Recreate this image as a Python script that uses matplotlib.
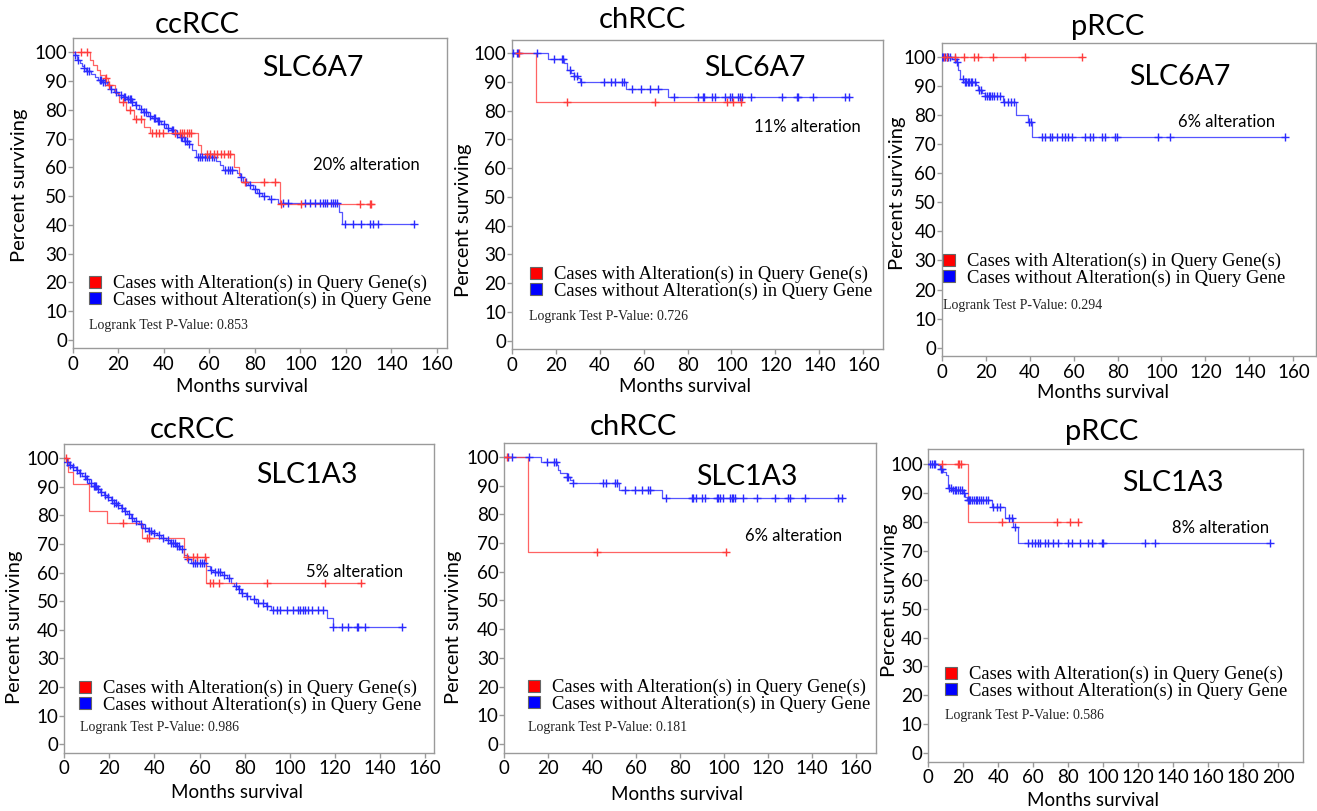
import numpy as np
import matplotlib
matplotlib.use("Agg")
import matplotlib.pyplot as plt
from matplotlib.lines import Line2D

W, H = 1317, 811

# ---------------- data ----------------
# Panel 1: ccRCC SLC6A7
p1_alt_t = [0, 7.5, 9, 10.5, 12, 14, 15.5, 18.5, 20.5, 23.5, 27, 31.5, 34, 55, 56.5, 71, 73, 74, 91]
p1_alt_s = [100, 97.5, 95.5, 93.8, 92, 91, 88.6, 86, 82.8, 80, 77, 74, 71.8, 67.8, 64.8, 60, 57.4, 55, 47.2]
p1_alt_end = 131
p1_alt_cens = [3.5, 6.5, 14.5, 16, 22, 25, 28, 30, 35, 36.5, 38, 39.5, 45, 47, 48, 49, 50, 51, 52,
               59, 60.5, 62, 63.5, 65, 66.5, 68, 69, 75.5, 84, 89, 91.6, 100.4, 126, 130.4, 131]
p1_un_t = [0, 1, 2, 3, 4, 5, 6, 8, 10, 11, 13, 15, 16.5, 18, 20, 22, 24, 26, 27.5, 29, 31, 33, 35, 37,
           39, 41, 43, 45, 47, 49, 51, 52.5, 54, 63, 64.5, 66, 72, 73.5, 75, 77, 79, 81, 83, 86, 90, 117, 118.5]
p1_un_s = [100, 99, 97.5, 96.3, 95.4, 94.5, 93.4, 92.6, 91.5, 90.3, 89.6, 88.5, 87.4, 86.3, 85.2, 84.5,
           83.8, 82.9, 81.6, 80.3, 79.1, 78.0, 77.2, 76.3, 75.0, 73.8, 72.9, 71.6, 70.4, 69.2, 68.3, 66.2,
           63.5, 62.4, 60.8, 59.2, 58.0, 56.6, 55.0, 53.8, 52.5, 51.2, 50.0, 49.1, 47.6, 44.6, 40.4]
p1_un_end = 150
p1_un_cens = [1, 2.5, 5, 6.5, 7, 12, 12.5, 13.5, 14, 17, 19, 21, 22.5, 23, 24.5, 25, 25.5, 26, 28, 30,
              31.5, 32, 34, 35.5, 36, 37.5, 38, 40, 42, 43.5, 44, 46, 47.5, 48, 49.5, 50, 51, 55, 56, 57,
              58, 59, 60, 61, 62, 67, 68, 69, 70, 74, 76, 78, 80, 82, 84, 87, 92.3, 94.5, 101.9, 104.1,
              106.3, 108.5, 110, 110.7, 111.5, 113.6, 114.4, 115.1, 115.9, 119.4, 123.1, 126.8, 130.4,
              131.9, 134.1, 150]

# Panel 2: chRCC SLC6A7
p2_alt_t = [0, 10.9]
p2_alt_s = [100, 83.2]
p2_alt_end = 105
p2_alt_cens = [3.5, 25, 65, 98, 100.5, 104.5]
p2_un_t = [0, 16.5, 23.8, 25, 27, 28.5, 30, 31, 52, 71]
p2_un_s = [100, 98, 96.5, 94.2, 93, 92, 91.3, 90.1, 87.6, 84.7]
p2_un_end = 154
p2_un_cens = [0.7, 2.3, 3, 11.4, 19.4, 22.7, 23.5, 26.5, 28.5, 29.5, 31.5, 42, 45, 47, 50, 51, 54.6,
              59, 63, 66.4, 74, 84.9, 87.2, 87.7, 91, 92.5, 97.1, 99.3, 100.1, 103.1, 103.9, 104.9,
              108.9, 122.8, 129.7, 130.4, 137.3, 151.7, 153.5]

# Panel 3: pRCC SLC6A7
p3_alt_t = [0]
p3_alt_s = [100]
p3_alt_end = 64
p3_alt_cens = [1, 2.5, 6, 10, 14.8, 16.5, 23.5, 38, 64]
p3_un_t = [0, 4.8, 6.5, 7.5, 8.5, 10.5, 15.5, 16.7, 18.2, 19.5, 28, 34, 39.4, 40.9]
p3_un_s = [100, 99.3, 98.2, 95.5, 92.5, 91.6, 90.6, 88.7, 87.6, 86.6, 84.7, 80.1, 77.8, 72.5]
p3_un_end = 156
p3_un_cens = [0.3, 0.8, 1.5, 2.3, 3, 4, 6, 7, 9.5, 10.5, 11, 12, 12.5, 13.5, 14, 15, 17, 18, 19.8,
              20.5, 21.5, 22, 23, 24, 25, 26.5, 28.5, 30, 31.5, 33, 39.9, 40.6, 45.5, 47, 49.3, 50,
              52.3, 54.6, 56.1, 57.6, 59.1, 65.2, 67.5, 69, 72.8, 74.3, 78.8, 79.6, 98.6, 103.9, 156]

# Panel 4: ccRCC SLC1A3
p4_alt_t = [0, 1.8, 3.7, 11.1, 18.8, 34.3, 53.1, 62.9]
p4_alt_s = [100, 95.3, 90.9, 81.7, 77.2, 72, 65.6, 56.2]
p4_alt_end = 131.9
p4_alt_cens = [0.9, 26.2, 36.5, 37.7, 54.3, 57, 58.7, 62.4, 64.6, 65.8, 68.8, 89.8, 115.6, 131.5]
p4_un_t = [0, 1, 2, 3.5, 5, 6.5, 8, 9.5, 11, 13, 14.5, 16, 17.5, 19, 20.5, 22, 23.5, 25, 26.5, 28,
           29.5, 31, 33, 35, 37, 39, 41, 43, 45, 47, 49.5, 51.5, 53, 54.5, 56, 63, 64.5, 66, 70, 72,
           74, 75.5, 77, 78.5, 80.5, 82.5, 85, 89.5, 91.5, 116.5, 119]
p4_un_s = [100, 98.8, 97.8, 96.9, 95.8, 94.8, 93.8, 92.7, 91.4, 90.3, 89.3, 88.2, 87.2, 86.3, 85.4,
           84.5, 83.6, 82.6, 81.6, 80.4, 79.2, 78.2, 77.0, 75.6, 74.7, 73.8, 73.0, 72.2, 71.3, 70.3,
           69.3, 68.3, 66.3, 64.6, 63.3, 62.2, 61.0, 60.2, 59.2, 58.0, 56.5, 55.2, 54.2, 53.0, 51.8,
           50.8, 49.5, 48.3, 47.1, 44.0, 41.0]
p4_un_end = 149.7
p4_un_cens = [1, 2.5, 4, 5.5, 7, 9, 10, 12, 13, 13.5, 14, 15, 16.5, 18, 19.5, 21, 22, 23, 24, 25.5,
              27, 28.5, 30, 32, 34, 36, 37.5, 38.5, 40, 42, 44, 46, 47.5, 48, 49, 50, 51, 52, 55, 57,
              58, 59, 60, 61, 62, 65, 67, 68, 69, 71, 73, 76, 77.5, 79, 81, 84, 86, 88, 90, 92.7, 94.2,
              95.7, 98.6, 101.6, 103.8, 104.5, 106, 106.8, 108.2, 109.7, 112.7, 114.9, 119.4, 123.1,
              126, 129.7, 130.5, 133.4, 149.7]

# Panel 5: chRCC SLC1A3
p5_alt_t = [0, 10.6]
p5_alt_s = [100, 66.9]
p5_alt_end = 101.2
p5_alt_cens = [1.1, 42, 101]
p5_un_t = [0, 16.5, 23.8, 24.6, 25.3, 28.4, 29.9, 31.1, 52.2, 71.6]
p5_un_s = [100, 98.3, 97, 95.4, 94.2, 93, 91.8, 90.7, 88.4, 85.5]
p5_un_end = 154.3
p5_un_cens = [1.8, 3.3, 11.4, 19.3, 22.8, 23.5, 28.4, 29.2, 31.1, 45, 46.5, 50.3, 51.3, 54.9, 59.5,
              62.5, 65.5, 66.3, 73.6, 85.2, 86, 87.2, 89.8, 91.3, 96.6, 97.4, 98.1, 99.7, 102.7, 103.4,
              104.2, 105, 108.8, 114.8, 123.2, 129.2, 130, 136.8, 152, 153.5]

# Panel 6: pRCC SLC1A3
p6_alt_t = [0, 22.9]
p6_alt_s = [100, 80.1]
p6_alt_end = 86.1
p6_alt_cens = [7.6, 16.8, 17.7, 18.7, 41.9, 73.4, 80.9, 85.4]
p6_un_t = [0, 5.4, 6.7, 8.6, 9.9, 11.2, 13.3, 20, 21, 22, 36.2, 43.8, 48.6, 51.1]
p6_un_s = [100, 99.8, 98.5, 97.4, 96.3, 91.7, 91.0, 89.9, 88.8, 87.6, 85.3, 81.3, 78.4, 72.6]
p6_un_end = 195.3
p6_un_cens = [1, 2, 3, 4, 7, 8, 12, 13, 14, 15, 16, 17, 18, 19, 20.5, 22.5, 23, 24, 25, 26, 27, 28,
              29, 30, 31, 33, 34, 37, 39, 41, 46, 48, 49.5, 57.2, 59.1, 61, 62.9, 63.8, 66.7, 68.6,
              71.4, 74.3, 80, 81.9, 86.7, 91.4, 93.3, 99, 100, 123.8, 129.5, 195.3]

titles = ["ccRCC", "chRCC", "pRCC", "ccRCC", "chRCC", "pRCC"]
genes = ["SLC6A7", "SLC6A7", "SLC6A7", "SLC1A3", "SLC1A3", "SLC1A3"]
alterations = ["20% alteration", "11% alteration", "6% alteration",
               "5% alteration", "6% alteration", "8% alteration"]
pvalues = ["0.853", "0.726", "0.294", "0.986", "0.181", "0.586"]
legend_labels = ["Cases with Alteration(s) in Query Gene(s)",
                 "Cases without Alteration(s) in Query Gene"]

# ---------------- layout (pixels) ----------------
panels = [
    dict(box=(72.7, 38, 447, 348), xlim=(0, 164.4), ylim=(-2.8, 105.0), xmax_tick=160,
         title=(197, 25), gene=(313, 68), alt=(366, 165), xl=(242, 387), yl=(20, 185),
         leg=(88.5, 275), pv=(89, 325),
         data=(p1_alt_t, p1_alt_s, p1_alt_end, p1_alt_cens, p1_un_t, p1_un_s, p1_un_end, p1_un_cens)),
    dict(box=(511.7, 40, 882.7, 349), xlim=(0, 168.8), ylim=(-2.9, 104.6), xmax_tick=160,
         title=(642, 20), gene=(755, 68), alt=(807, 127), xl=(685, 387), yl=(463, 220),
         leg=(529, 266), pv=(529, 317),
         data=(p2_alt_t, p2_alt_s, p2_alt_end, p2_alt_cens, p2_un_t, p2_un_s, p2_un_end, p2_un_cens)),
    dict(box=(941.7, 42.7, 1316, 356), xlim=(0, 170.3), ylim=(-2.9, 105.0), xmax_tick=160,
         title=(1108, 27), gene=(1180, 77), alt=(1227, 122), xl=(1103, 393), yl=(898, 193),
         leg=(942.5, 253), pv=(943, 305),
         data=(p3_alt_t, p3_alt_s, p3_alt_end, p3_alt_cens, p3_un_t, p3_un_s, p3_un_end, p3_un_cens)),
    dict(box=(64.3, 444.3, 434, 752.7), xlim=(0, 164.0), ylim=(-3.0, 104.9), xmax_tick=160,
         title=(192, 430), gene=(307, 475), alt=(355, 572), xl=(237, 793), yl=(15, 627),
         leg=(78.5, 680), pv=(80, 728),
         data=(p4_alt_t, p4_alt_s, p4_alt_end, p4_alt_cens, p4_un_t, p4_un_s, p4_un_end, p4_un_cens)),
    dict(box=(504.3, 442.7, 875.7, 752.7), xlim=(0, 169.0), ylim=(-3.0, 104.9), xmax_tick=160,
         title=(633, 427), gene=(747, 477), alt=(794, 536), xl=(677, 795), yl=(453, 627),
         leg=(527.5, 679), pv=(528, 728),
         data=(p5_alt_t, p5_alt_s, p5_alt_end, p5_alt_cens, p5_un_t, p5_un_s, p5_un_end, p5_un_cens)),
    dict(box=(928.3, 449.3, 1303.3, 761.7), xlim=(0, 214.3), ylim=(-3.0, 105.2), xmax_tick=200,
         title=(1102, 432), gene=(1173, 483), alt=(1221, 528), xl=(1093, 800), yl=(890, 600),
         leg=(944.5, 666), pv=(945, 716),
         data=(p6_alt_t, p6_alt_s, p6_alt_end, p6_alt_cens, p6_un_t, p6_un_s, p6_un_end, p6_un_cens)),
]

RED = "#ff3c3c"
BLUE = "#2b2bff"
SANS = ["Lato", "DejaVu Sans"]
SERIF = ["Liberation Serif", "DejaVu Serif"]

fig = plt.figure(figsize=(W / 100, H / 100), dpi=100)
fig.patch.set_facecolor("white")


def fxy(x, y):
    return x / W, 1 - y / H


def km(ax, t, s, end, cens, color):
    t = np.asarray(t, float)
    s = np.asarray(s, float)
    xs = np.append(t, end)
    ys = np.append(s, s[-1])
    ax.step(xs, ys, where="post", color=color, lw=0.9, alpha=0.8, zorder=3)
    c = np.asarray(cens, float)
    idx = np.searchsorted(t, c, side="right") - 1
    idx = np.clip(idx, 0, len(s) - 1)
    ax.plot(c, s[idx], ls="", marker="+", ms=6, mew=1.0, color=color, zorder=4)


for i, p in enumerate(panels):
    l, t_, r, b = p["box"]
    ax = fig.add_axes([l / W, 1 - b / H, (r - l) / W, (b - t_) / H])
    at, as_, aend, acens, ut, us, uend, ucens = p["data"]
    km(ax, ut, us, uend, ucens, BLUE)
    km(ax, at, as_, aend, acens, RED)
    ax.set_xlim(*p["xlim"])
    ax.set_ylim(*p["ylim"])
    ax.set_xticks(np.arange(0, p["xmax_tick"] + 1, 20))
    ax.set_yticks(np.arange(0, 101, 10))
    for sp in ax.spines.values():
        sp.set_color("#9a9a9a")
        sp.set_linewidth(1.0)
    ax.tick_params(axis="both", direction="out", length=3.5, width=1, color="#9a9a9a",
                   labelsize=13.5, labelcolor="black")
    ax.tick_params(axis="y", pad=0.5)
    ax.tick_params(axis="x", pad=2)
    for lab in ax.get_xticklabels() + ax.get_yticklabels():
        lab.set_family(SANS)

    # texts
    fig.text(*fxy(*p["title"]), titles[i], ha="center", va="center", fontsize=21, family=SANS)
    fig.text(*fxy(*p["gene"]), genes[i], ha="center", va="center", fontsize=20.5, family=SANS)
    fig.text(*fxy(*p["alt"]), alterations[i], ha="center", va="center", fontsize=12, family=SANS)
    fig.text(*fxy(*p["xl"]), "Months survival", ha="center", va="center", fontsize=13.5, family=SANS)
    fig.text(*fxy(*p["yl"]), "Percent surviving", ha="center", va="center", rotation=90,
             fontsize=14.5, family=SANS)
    fig.text(*fxy(*p["pv"]), "Logrank Test P-Value: " + pvalues[i], ha="left", va="center",
             fontsize=10, family=SERIF, color="#222222")

    handles = [Line2D([], [], ls="", marker="s", ms=8, mfc="#ff0000", mec="#666666", mew=0.8),
               Line2D([], [], ls="", marker="s", ms=8, mfc="#0000ff", mec="#666666", mew=0.8)]
    ax.legend(handles, legend_labels, loc="upper left",
              bbox_to_anchor=fxy(*p["leg"]), bbox_transform=fig.transFigure,
              frameon=False, borderpad=0, borderaxespad=0, handlelength=0.75,
              handletextpad=0.58, labelspacing=-0.05,
              prop={"family": SERIF, "size": 13.4})

fig.savefig("out.png", dpi=100, facecolor="white")
